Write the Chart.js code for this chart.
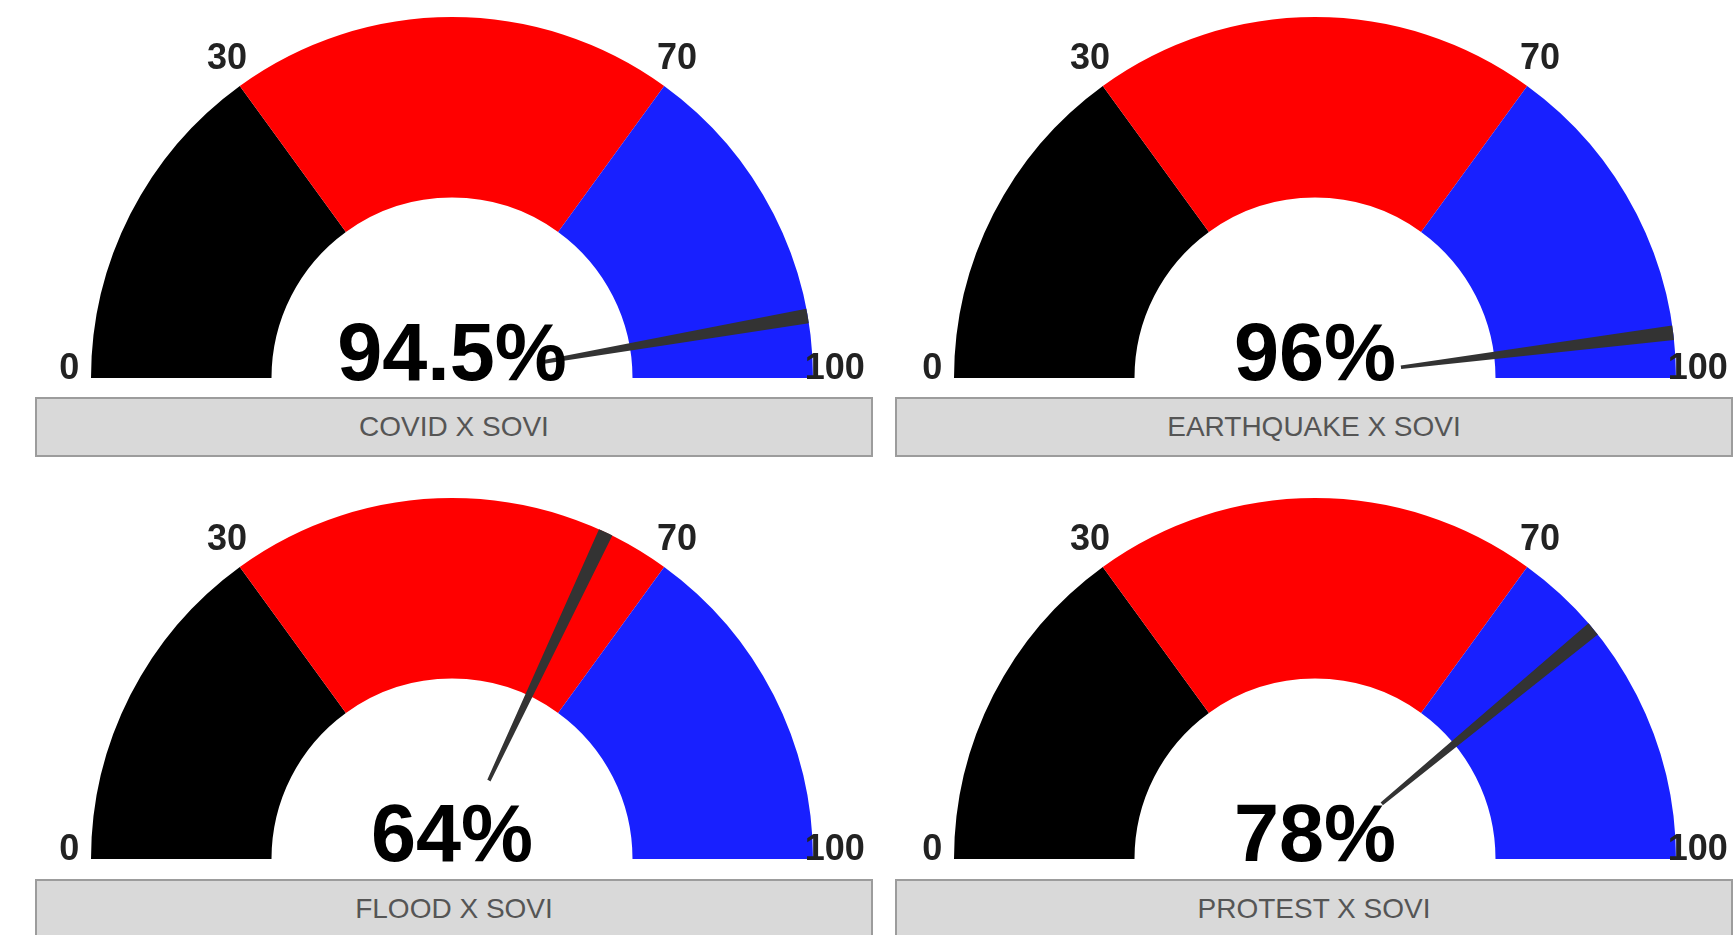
<!DOCTYPE html>
<html>
<head>
<meta charset="utf-8">
<script src="https://cdn.jsdelivr.net/npm/chart.js@4/dist/chart.umd.min.js"></script>
<style>
  html, body { margin: 0; padding: 0; background: #fff; }
  body { width: 1736px; height: 935px; position: relative; overflow: hidden; font-family: "Liberation Sans", Arial, sans-serif; }
  .gauge { position: absolute; }
  .gauge canvas { position: absolute; left: 0; top: 0; }
  .caption {
    position: absolute; box-sizing: border-box; height: 60px;
    background: #d9d9d9; border: 2px solid #9c9c9c;
    color: #555; font-size: 28px; line-height: 56px; text-align: center;
  }
</style>
</head>
<body>
<script>
// gauge data
const gaugeTitles = ['COVID X SOVI', 'EARTHQUAKE X SOVI', 'FLOOD X SOVI', 'PROTEST X SOVI'];
const gaugeValues = [94.5, 96, 64, 78];
const valueLabels = ['94.5%', '96%', '64%', '78%'];
const bandEdges = [0, 30, 70, 100];
const bandColors = ['#000000', '#ff0000', '#1820ff'];

// layout
const RADIUS = 361;
const PAD = 60;
const centers = [[452, 378], [1315, 378], [452, 859], [1315, 859]];
const boxes = [[35, 397, 838], [895, 397, 838], [35, 879, 838], [895, 879, 838]];
const NEEDLE_WIDTH = 1.3;

const bandData = bandEdges.slice(1).map((edge, i) => edge - bandEdges[i]);

const edgeLabels = {
  id: 'edgeLabels',
  afterDatasetsDraw(chart) {
    const arcs = chart.getDatasetMeta(0).data;
    const ctx = chart.ctx;
    const angles = [arcs[0].startAngle, ...arcs.map(a => a.endAngle)];
    const r = arcs[0].outerRadius * 1.06;
    ctx.save();
    ctx.font = 'bold 36px "Liberation Sans", Arial, sans-serif';
    ctx.fillStyle = '#222';
    ctx.textAlign = 'center';
    ctx.textBaseline = 'alphabetic';
    angles.forEach((angle, i) => {
      ctx.fillText(String(bandEdges[i]), arcs[0].x + r * Math.cos(angle), arcs[0].y + r * Math.sin(angle) + 1);
    });
    ctx.restore();
  }
};

const valueText = {
  id: 'valueText',
  afterDatasetsDraw(chart, args, opts) {
    const arc = chart.getDatasetMeta(0).data[0];
    const ctx = chart.ctx;
    ctx.save();
    ctx.font = 'bold 81px "Liberation Sans", Arial, sans-serif';
    ctx.fillStyle = '#000';
    ctx.textAlign = 'center';
    ctx.textBaseline = 'alphabetic';
    ctx.fillText(opts.text, arc.x, arc.y + 2);
    ctx.restore();
  }
};

function makeCanvas(parent) {
  const c = document.createElement('canvas');
  c.width = RADIUS * 2 + PAD * 2;
  c.height = RADIUS + 20 + 6;
  parent.appendChild(c);
  return c;
}

const baseOptions = {
  responsive: false,
  animation: false,
  rotation: -90,
  circumference: 180,
  layout: { padding: { left: PAD, right: PAD, top: 20, bottom: 6 } },
  events: [],
};

gaugeValues.forEach((value, i) => {
  const [cx, cy] = centers[i];
  const wrap = document.createElement('div');
  wrap.className = 'gauge';
  wrap.style.left = (cx - RADIUS - PAD) + 'px';
  wrap.style.top = (cy - RADIUS - 20) + 'px';
  document.body.appendChild(wrap);

  new Chart(makeCanvas(wrap).getContext('2d'), {
    type: 'doughnut',
    data: {
      labels: ['low', 'mid', 'high'],
      datasets: [{ data: bandData, backgroundColor: bandColors, borderWidth: 0 }],
    },
    options: {
      ...baseOptions,
      cutout: '50%',
      plugins: { legend: { display: false }, tooltip: { enabled: false } },
    },
    plugins: [edgeLabels],
  });

  new Chart(makeCanvas(wrap).getContext('2d'), {
    type: 'doughnut',
    data: {
      labels: ['before', 'needle', 'after'],
      datasets: [{
        data: [value - NEEDLE_WIDTH / 2, NEEDLE_WIDTH, 100 - value - NEEDLE_WIDTH / 2],
        backgroundColor: ['rgba(0,0,0,0)', '#333333', 'rgba(0,0,0,0)'],
        borderWidth: 0,
      }],
    },
    options: {
      ...baseOptions,
      cutout: '24%',
      plugins: {
        legend: { display: false },
        tooltip: { enabled: false },
        valueText: { text: valueLabels[i] },
      },
    },
    plugins: [valueText],
  });

  const [bx, by, bw] = boxes[i];
  const box = document.createElement('div');
  box.className = 'caption';
  box.style.left = bx + 'px';
  box.style.top = by + 'px';
  box.style.width = bw + 'px';
  box.textContent = gaugeTitles[i];
  document.body.appendChild(box);
});
</script>
</body>
</html>
